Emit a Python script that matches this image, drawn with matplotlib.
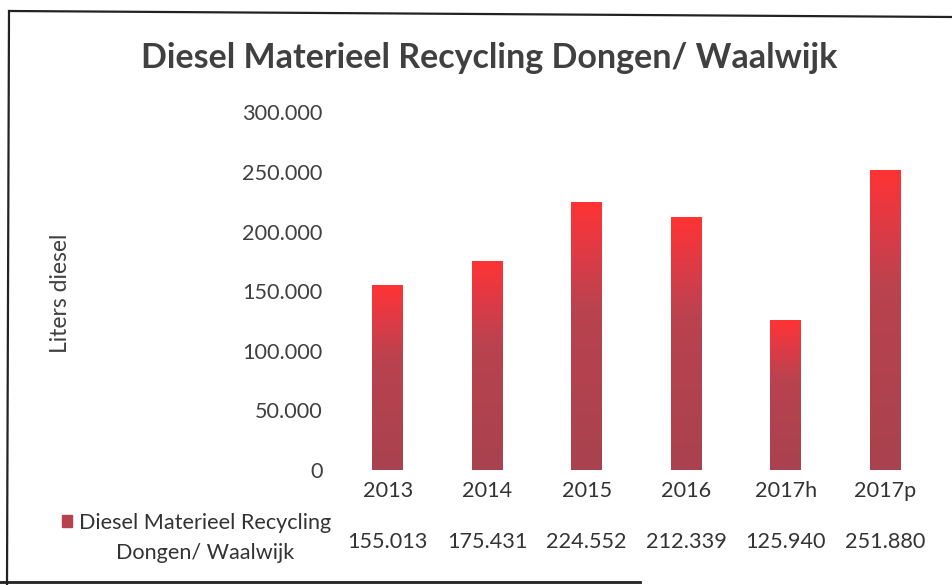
import numpy as np
import matplotlib
matplotlib.use("Agg")
import matplotlib.pyplot as plt
from matplotlib.colors import LinearSegmentedColormap
from matplotlib.patches import Rectangle
from matplotlib.lines import Line2D

categories = ['2013', '2014', '2015', '2016', '2017h', '2017p']
liters = [155013, 175431, 224552, 212339, 125940, 251880]
value_labels = ['155.013', '175.431', '224.552', '212.339', '125.940', '251.880']
yticks = [0, 50000, 100000, 150000, 200000, 250000, 300000]
ytick_labels = ['0', '50.000', '100.000', '150.000', '200.000', '250.000', '300.000']
series_name = 'Diesel Materieel Recycling\nDongen/ Waalwijk'

W, H = 952, 585
fig = plt.figure(figsize=(W / 100, H / 100), dpi=100)
fig.patch.set_facecolor('white')

# axes box in pixel units of the reference
ax = fig.add_axes([338 / W, 1 - 470 / H, 597 / W, 360 / H])
ax.set_facecolor('none')

cmap = LinearSegmentedColormap.from_list(
    'dieselred', [(0.0, '#a8424e'), (0.6, '#b9434f'), (0.82, '#e03a45'), (1.0, '#ff3333')])
grad = np.linspace(0, 1, 256).reshape(-1, 1)

bw = 0.31
x = np.arange(len(categories))
bars = ax.bar(x, liters, width=bw, color='#b5424e', zorder=2)
for b in bars:
    im = ax.imshow(grad, extent=[b.get_x(), b.get_x() + b.get_width(), 0, b.get_height()],
                   origin='lower', aspect='auto', cmap=cmap, zorder=3)
    im.set_clip_path(b)

ax.set_xlim(-0.5, len(categories) - 0.5)
ax.set_ylim(0, 302000)
for s in ax.spines.values():
    s.set_visible(False)

fs = 15.6
ax.set_yticks(yticks)
ax.set_yticklabels(ytick_labels)
ax.tick_params(axis='y', length=0, pad=11, labelsize=fs, labelcolor='#404040')
ax.set_xticks(x)
ax.set_xticklabels(categories)
ax.tick_params(axis='x', length=0, pad=8, labelsize=fs, labelcolor='#333333')
for lab in ax.get_yticklabels() + ax.get_xticklabels():
    lab.set_family(['Lato', 'DejaVu Sans'])

fig.text(61 / W, 1 - 293 / H, 'Liters diesel', rotation=90, ha='center', va='center',
         fontsize=16.5, color='#404040', family=['Lato', 'DejaVu Sans'])

fig.text(489 / W, 1 - 58 / H, 'Diesel Materieel Recycling Dongen/ Waalwijk',
         ha='center', va='center', fontsize=24.5, fontweight='bold', color='#404040',
         family=['Lato', 'DejaVu Sans'])

# data table row
fig.patches.append(Rectangle((62 / W, 1 - 527 / H), 10 / W, 12 / H,
                             transform=fig.transFigure, color='#b5424e'))
fig.text(205 / W, 1 - 538 / H, series_name, ha='center', va='center', fontsize=fs,
         color='#333333', linespacing=1.6, family=['Lato', 'DejaVu Sans'])
tr = matplotlib.transforms.blended_transform_factory(ax.transData, fig.transFigure)
for i, v in enumerate(value_labels):
    ax.text(i, 1 - 542 / H, v, transform=tr, ha='center', va='center', fontsize=fs,
            color='#333333', family=['Lato', 'DejaVu Sans'], clip_on=False)

# scanned frame
fig.add_artist(Line2D([10 / W, 1], [1 - 11 / H, 1 - 17 / H], color='#222222', lw=1.6))
fig.add_artist(Line2D([9 / W, 7 / W], [1 - 11 / H, 0], color='#222222', lw=1.6))
fig.add_artist(Line2D([0, 640 / W], [1 - 582 / H, 1 - 582 / H], color='#222222', lw=2))

fig.savefig('out.png', dpi=100)
